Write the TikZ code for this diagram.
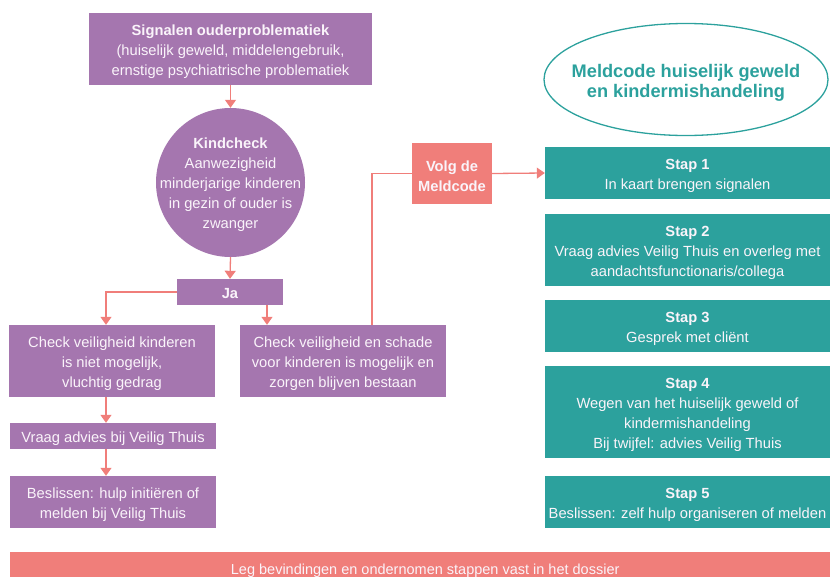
\documentclass[tikz,border=0pt]{standalone}
\usepackage{fontspec}
\setmainfont{Liberation Sans}
\usetikzlibrary{arrows.meta,shapes.geometric}
\definecolor{purp}{HTML}{A576AF}
\definecolor{coral}{HTML}{F07E7A}
\definecolor{teal2}{HTML}{2CA19D}
\definecolor{txt}{HTML}{FAF4FA}
\tikzset{
  lbl/.style={text=txt,align=center,inner sep=0pt,font=\fontsize{14.7}{20}\selectfont,yshift=-2.5pt},
  pbox/.style={rectangle,fill=purp,inner sep=0pt},
  tbox/.style={rectangle,fill=teal2,inner sep=0pt,minimum width=285pt},
  link/.style={draw=coral,line width=1.3pt},
  arr/.style={link,-{Triangle[width=11pt,length=8pt]}},
}
\begin{document}
\begin{tikzpicture}[x=1pt,y=-1pt]
\useasboundingbox (0,0) rectangle (830,576);
% left flow
\node[pbox,minimum width=283pt,minimum height=72pt,
  label={[lbl]center:{\textbf{Signalen ouderproblematiek}\\(huiselijk geweld, middelengebruik,\\ernstige psychiatrische problematiek}}] (sig) at (230.5,49) {};
\node[pbox,circle,minimum size=149pt,
  label={[lbl]center:{\textbf{Kindcheck}\\Aanwezigheid\\minderjarige kinderen\\in gezin of ouder is\\zwanger}}] (kind) at (230.5,182.5) {};
\node[pbox,minimum width=106pt,minimum height=26pt,
  label={[lbl,yshift=1pt]center:{\textbf{Ja}}}] (ja) at (230,292) {};
\node[pbox,minimum width=206pt,minimum height=72pt,
  label={[lbl]center:{Check veiligheid kinderen\\is niet mogelijk,\\vluchtig gedrag}}] (left) at (112,361) {};
\node[pbox,minimum width=206pt,minimum height=72pt,
  label={[lbl]center:{Check veiligheid en schade\\voor kinderen is mogelijk en\\zorgen blijven bestaan}}] (right) at (343,361) {};
\node[pbox,minimum width=206pt,minimum height=26pt,
  label={[lbl]center:{Vraag advies bij Veilig Thuis}}] (vraag) at (113,436) {};
\node[pbox,minimum width=206pt,minimum height=52pt,
  label={[lbl]center:{Beslissen: hulp initiëren of\\melden bij Veilig Thuis}}] (besl) at (113,502) {};
\node[rectangle,fill=coral,inner sep=0pt,minimum width=80pt,minimum height=61pt,
  label={[lbl,font=\fontsize{14.7}{20}\selectfont\bfseries]center:{Volg de\\Meldcode}}] (volg) at (452,173.5) {};
% right column
\node[ellipse,draw=teal2,line width=1.3pt,minimum width=284pt,minimum height=112pt,inner sep=0pt,
  label={[lbl,text=teal2,font=\fontsize{18.2}{20}\selectfont\bfseries,yshift=-0.5pt]center:{Meldcode huiselijk geweld\\en kindermishandeling}}] (mc) at (686,79.5) {};
\node[tbox,minimum height=52pt,
  label={[lbl]center:{\textbf{Stap 1}\\In kaart brengen signalen}}] (s1) at (687.5,173) {};
\node[tbox,minimum height=72pt,
  label={[lbl]center:{\textbf{Stap 2}\\Vraag advies Veilig Thuis en overleg met\\aandachtsfunctionaris/collega}}] (s2) at (687.5,250) {};
\node[tbox,minimum height=52pt,
  label={[lbl]center:{\textbf{Stap 3}\\Gesprek met cliënt}}] (s3) at (687.5,326) {};
\node[tbox,minimum height=92pt,
  label={[lbl]center:{\textbf{Stap 4}\\Wegen van het huiselijk geweld of\\kindermishandeling\\Bij twijfel: advies Veilig Thuis}}] (s4) at (687.5,412) {};
\node[tbox,minimum height=52pt,
  label={[lbl]center:{\textbf{Stap 5}\\Beslissen: zelf hulp organiseren of melden}}] (s5) at (687.5,502) {};
% banner
\node[rectangle,fill=coral,inner sep=0pt,minimum width=830pt,minimum height=38pt,anchor=north west,
  label={[lbl,font=\fontsize{14.5}{16}\selectfont,yshift=3pt]center:{Leg bevindingen en ondernomen stappen vast in het dossier}}] (ban) at (10,552) {};
% connectors
\draw[arr] (sig.south) -- (kind.north);
\draw[arr] (kind.south) -- (ja.north);
\draw[arr] (ja.west) -| ([xshift=-6pt]left.north);
\draw[arr] ([xshift=37pt]ja.south) -- ([xshift=37pt]ja.south |- right.north);
\draw[link] ([xshift=29pt]right.north) |- (volg.west);
\draw[arr] (volg.east) -- (s1.west);
\draw[arr] ([xshift=-6pt]left.south) -- ([xshift=-6pt]left.south |- vraag.north);
\draw[arr] ([xshift=-7pt]vraag.south) -- ([xshift=-7pt]vraag.south |- besl.north);
\end{tikzpicture}
\end{document}
